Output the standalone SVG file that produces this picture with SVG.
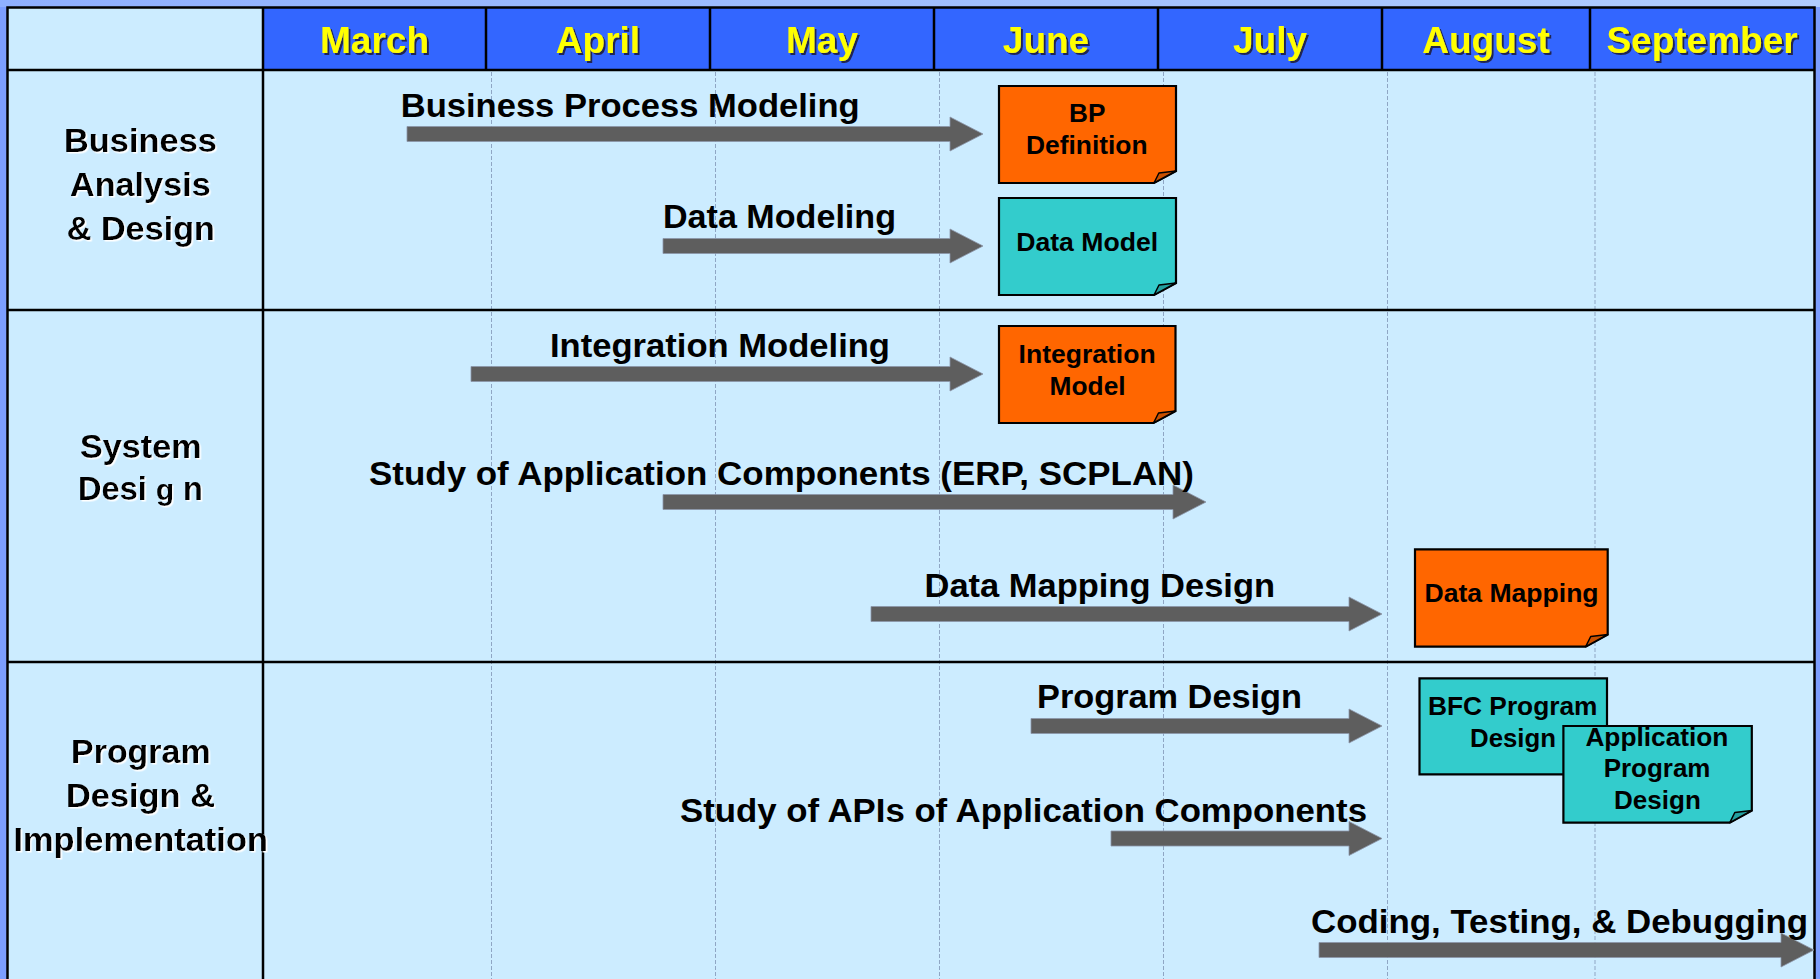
<svg xmlns="http://www.w3.org/2000/svg" width="1820" height="979" viewBox="0 0 1820 979">
  <style>
    .lbl { font-family: "Liberation Sans", Arial, Helvetica, sans-serif; font-weight: bold; fill: #000; }
    .month { font-family: "Liberation Sans", Arial, Helvetica, sans-serif; font-weight: bold; font-size: 37px; fill: #FFFF00; text-anchor: middle; }
    .task { font-size: 33px; }
    .lane { font-size: 33px; }
    .note { font-size: 25px; }
    .grid { stroke: #8FA6C4; stroke-width: 1; stroke-dasharray: 4 2; fill: none; }
    .rule { stroke: #000; stroke-width: 2.5; fill: none; }
    .arrow { fill: #5E5E5E; stroke: #8C96A8; stroke-width: 0.8; }
    .orange { fill: #FF6600; stroke: #000; stroke-width: 2.2; }
    .teal { fill: #33CCCC; stroke: #000; stroke-width: 2.2; }
    .flap-o { fill: #C85000; stroke: #000; stroke-width: 1.5; stroke-linejoin: round; }
    .flap-t { fill: #24A0A0; stroke: #000; stroke-width: 1.5; stroke-linejoin: round; }
  </style>
  <defs>
    <filter id="halo" x="-5%" y="-20%" width="115%" height="150%">
      <feDropShadow dx="1.5" dy="1.5" stdDeviation="0" flood-color="#FFFFFF" flood-opacity="1"/>
    </filter>
    <filter id="dark" x="-5%" y="-20%" width="115%" height="150%">
      <feDropShadow dx="2" dy="2" stdDeviation="0.3" flood-color="#1A1A40" flood-opacity="0.9"/>
    </filter>
    <linearGradient id="topband" x1="0" y1="0" x2="1" y2="0">
      <stop offset="0" stop-color="#8FB0FF"/>
      <stop offset="1" stop-color="#B0CCFF"/>
    </linearGradient>
  </defs>

  <!-- page background around the chart frame -->
  <rect x="0" y="0" width="1820" height="979" fill="#7C9EFF"/>
  <rect x="0" y="0" width="1820" height="7" fill="url(#topband)"/>

  <!-- chart body -->
  <rect x="7" y="7" width="1808" height="980" fill="#CCECFF"/>

  <!-- month header band -->
  <g id="header">
    <rect x="263" y="7" width="1552" height="63" fill="#3366FF"/>
    <path class="rule" d="M486 7V70M710 7V70M934 7V70M1158 7V70M1382 7V70M1590 7V70" stroke-width="4"/>
    <g filter="url(#dark)">
      <text class="month" x="374.5" y="52.5">March</text>
      <text class="month" x="598" y="52.5">April</text>
      <text class="month" x="822" y="52.5">May</text>
      <text class="month" x="1046" y="52.5">June</text>
      <text class="month" x="1270" y="52.5">July</text>
      <text class="month" x="1486" y="52.5">August</text>
      <text class="month" x="1702" y="52.5">September</text>
    </g>
  </g>

  <!-- month gridlines -->
  <g id="gridlines">
    <path class="grid" d="M491.5 72V979M715.5 72V979M939.5 72V979M1163.5 72V979M1387.5 72V979M1595 72V979"/>
  </g>

  <!-- frame and lane rules -->
  <g id="frame">
    <path class="rule" d="M7.5 979V7.5H1814.5V979"/>
    <path class="rule" d="M7 70H1815M7 310H1815M7 662H1815"/>
    <path class="rule" d="M263 7V979"/>
  </g>

  <!-- lane titles -->
  <g id="lane-business" class="lbl lane" filter="url(#halo)">
    <text x="64" y="151.7" textLength="153" lengthAdjust="spacingAndGlyphs">Business</text>
    <text x="70" y="195.5" textLength="140.7" lengthAdjust="spacingAndGlyphs">Analysis</text>
    <text x="66.7" y="240" textLength="148.3" lengthAdjust="spacingAndGlyphs">&amp; Design</text>
  </g>
  <g id="lane-system" class="lbl lane" filter="url(#halo)">
    <text x="80" y="458.3" textLength="121.7" lengthAdjust="spacingAndGlyphs">System</text>
    <text x="78" y="500" textLength="125" lengthAdjust="spacingAndGlyphs">Desi <tspan font-size="30">g</tspan> n</text>
  </g>
  <g id="lane-program" class="lbl lane" filter="url(#halo)">
    <text x="71" y="763.3" textLength="139.7" lengthAdjust="spacingAndGlyphs">Program</text>
    <text x="66" y="806.7" textLength="149" lengthAdjust="spacingAndGlyphs">Design &amp;</text>
    <text x="13.4" y="850.7" textLength="254.6" lengthAdjust="spacingAndGlyphs">Implementation</text>
  </g>

  <!-- activity arrows -->
  <g id="connectors">
    <path class="arrow" d="M407 126.5H950V117L983 134L950 151V141.5H407Z"/>
    <path class="arrow" d="M663 238.5H950V229L983 246L950 263V253.5H663Z"/>
    <path class="arrow" d="M471 366.5H950V357L983 374L950 391V381.5H471Z"/>
    <path class="arrow" d="M663 494.5H1173V485L1206 502L1173 519V509.5H663Z"/>
    <path class="arrow" d="M871 606.5H1349V597L1382 614L1349 631V621.5H871Z"/>
    <path class="arrow" d="M1031 718.5H1349V709L1382 726L1349 743V733.5H1031Z"/>
    <path class="arrow" d="M1111 831H1349V821.5L1382 838.5L1349 855.5V846H1111Z"/>
    <path class="arrow" d="M1319 942.5H1781V933L1814 950L1781 967V957.5H1319Z"/>
  </g>

  <!-- activity labels -->
  <g id="activities" class="lbl task">
    <text id="t-bpm" x="400.7" y="117" textLength="459" lengthAdjust="spacingAndGlyphs">Business Process Modeling</text>
    <text id="t-dm" x="663" y="228" textLength="233" lengthAdjust="spacingAndGlyphs">Data Modeling</text>
    <text id="t-im" x="550" y="357" textLength="340" lengthAdjust="spacingAndGlyphs">Integration Modeling</text>
    <text id="t-sac" x="369" y="485" textLength="825" lengthAdjust="spacingAndGlyphs">Study of Application Components (ERP, SCPLAN)</text>
    <text id="t-dmd" x="924.5" y="597" textLength="350.5" lengthAdjust="spacingAndGlyphs">Data Mapping Design</text>
    <text id="t-pd" x="1037" y="708" textLength="265" lengthAdjust="spacingAndGlyphs">Program Design</text>
    <text id="t-api" x="680" y="822" textLength="687" lengthAdjust="spacingAndGlyphs">Study of APIs of Application Components</text>
    <text id="t-ctd" x="1311" y="933" textLength="497" lengthAdjust="spacingAndGlyphs">Coding, Testing, &amp; Debugging</text>
  </g>

  <!-- deliverables (folded-corner notes) -->
  <g id="bp-definition">
    <path class="orange" d="M999 86H1176V171L1154 183H999Z"/>
    <path class="flap-o" d="M1154 183L1176 171L1159 173Z"/>
    <g class="lbl note">
      <text x="1069" y="121.7" textLength="36.4" lengthAdjust="spacingAndGlyphs">BP</text>
      <text x="1026" y="154" textLength="121.6" lengthAdjust="spacingAndGlyphs">Definition</text>
    </g>
  </g>
  <g id="data-model">
    <path class="teal" d="M999 198H1176V283L1154 295H999Z"/>
    <path class="flap-t" d="M1154 295L1176 283L1159 285Z"/>
    <text class="lbl note" x="1016.2" y="250.7" textLength="142" lengthAdjust="spacingAndGlyphs">Data Model</text>
  </g>
  <g id="integration-model">
    <path class="orange" d="M999 326H1175.5V411L1153.5 423H999Z"/>
    <path class="flap-o" d="M1153.5 423L1175.5 411L1158.5 413Z"/>
    <g class="lbl note">
      <text x="1018.6" y="363.3" textLength="137" lengthAdjust="spacingAndGlyphs">Integration</text>
      <text x="1049.6" y="395" textLength="76" lengthAdjust="spacingAndGlyphs">Model</text>
    </g>
  </g>
  <g id="data-mapping">
    <path class="orange" d="M1415 549.3H1607.7V634.5L1585.7 646.7H1415Z"/>
    <path class="flap-o" d="M1585.7 646.7L1607.7 634.5L1590.7 636.5Z"/>
    <text class="lbl note" x="1424.6" y="601.7" textLength="174" lengthAdjust="spacingAndGlyphs">Data Mapping</text>
  </g>
  <g id="bfc-program-design">
    <path class="teal" d="M1419.5 678.3H1607V762L1585 774.3H1419.5Z"/>
    <g class="lbl note">
      <text x="1428" y="715" textLength="169.5" lengthAdjust="spacingAndGlyphs">BFC Program</text>
      <text x="1470" y="746.7" textLength="86" lengthAdjust="spacingAndGlyphs">Design</text>
    </g>
  </g>
  <g id="app-program-design">
    <path class="teal" d="M1563.4 726H1751.8V810.5L1729.8 822.7H1563.4Z"/>
    <path class="flap-t" d="M1729.8 822.7L1751.8 810.5L1734.8 812.5Z"/>
    <g class="lbl note">
      <text x="1585.4" y="746" textLength="143" lengthAdjust="spacingAndGlyphs">Application</text>
      <text x="1603.7" y="777.3" textLength="106.7" lengthAdjust="spacingAndGlyphs">Program</text>
      <text x="1614" y="809.3" textLength="86.8" lengthAdjust="spacingAndGlyphs">Design</text>
    </g>
  </g>
</svg>
